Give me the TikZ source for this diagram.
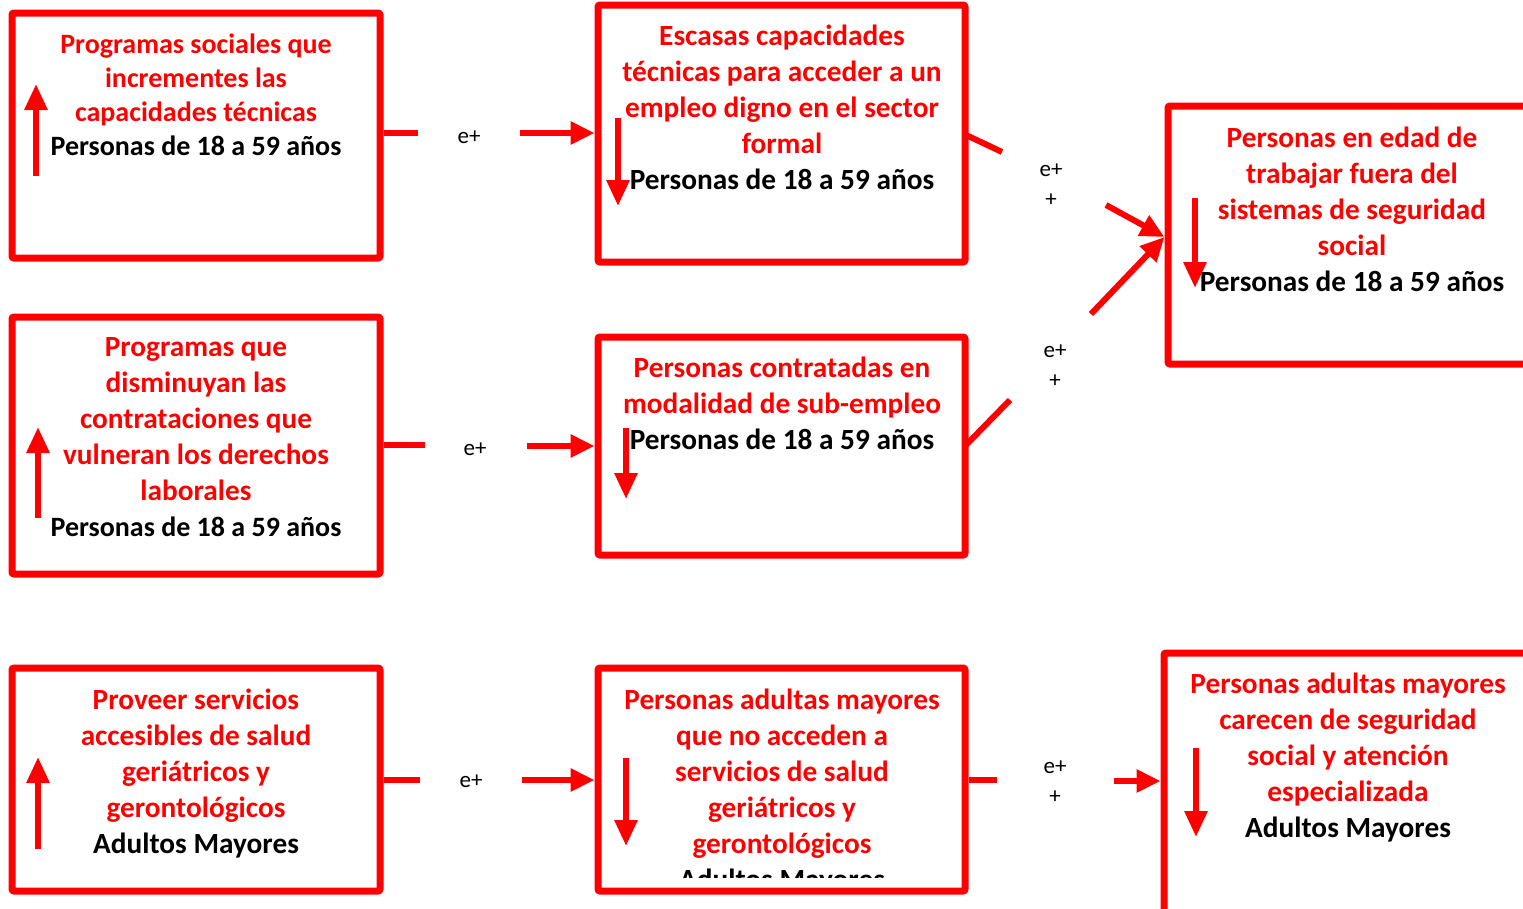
\documentclass[tikz,border=0pt]{standalone}
\usepackage{fontspec}
\setmainfont{Carlito}
\usetikzlibrary{arrows.meta}
\definecolor{rd}{RGB}{255,0,0}
\tikzset{
  box/.style={draw=rd, line width=7pt, rounded corners=2pt, inner sep=0pt},
  txt/.style={align=center, font=\bfseries\fontsize{29.3}{36}\selectfont, text=rd, inner sep=0pt, anchor=base},
  txtsm/.style={txt, font=\bfseries\fontsize{28}{34}\selectfont},
  lab/.style={align=center, font=\fontsize{23}{30}\selectfont, inner sep=0pt, anchor=base},
  conn/.style={draw=rd, line width=6pt},
  arr/.style={draw=rd, line width=6pt, -{Triangle[length=24pt, width=22pt]}},
  ind/.style={draw=rd, line width=6pt, -{Triangle[length=26pt, width=22pt]}},
}
\newcommand{\blk}[1]{\textcolor{black}{#1}}
\newcommand{\blksm}[1]{\textcolor{black}{\fontsize{28}{36}\selectfont #1}}
\begin{document}
\begin{tikzpicture}[x=1pt, y=-1pt]
\useasboundingbox (0,0) rectangle (1523,908);
\clip (0,0) rectangle (1523,908);
% boxes
\node[box, minimum width=368pt, minimum height=245pt] (A1) at (196,135.5) {};
\node[box, minimum width=367pt, minimum height=257pt] (A2) at (781.5,133.5) {};
\node[box, minimum width=362pt, minimum height=258pt] (A3) at (1349,235) {};
\node[box, minimum width=368pt, minimum height=257pt] (B1) at (196,445.5) {};
\node[box, minimum width=367pt, minimum height=218pt] (B2) at (781.5,446) {};
\node[box, minimum width=368pt, minimum height=223pt] (C1) at (196,779.5) {};
\node[box, minimum width=367pt, minimum height=223pt] (C2) at (781.5,779.5) {};
\node[box, minimum width=366pt, minimum height=262pt] (C3) at (1347,784) {};
% texts
\node[txtsm] (tA1) at (196,155) {Programas sociales que\\incrementes las\\capacidades técnicas\\\blk{Personas de 18 a 59 años}};
\node[txt] (tA2) at (782,189) {Escasas capacidades\\técnicas para acceder a un\\empleo digno en el sector\\formal\\\blk{Personas de 18 a 59 años}};
\node[txt] (tA3) at (1352,291) {Personas en edad de\\trabajar fuera del\\sistemas de seguridad\\social\\\blk{Personas de 18 a 59 años}};
\node[txt] (tB1) at (196,536) {Programas que\\disminuyan las\\contrataciones que\\vulneran los derechos\\laborales\\\blksm{Personas de 18 a 59 años}};
\node[txt] (tB2) at (782,449) {Personas contratadas en\\modalidad de sub-empleo\\\blk{Personas de 18 a 59 años}};
\node[txt] (tC1) at (196,853) {Proveer servicios\\accesibles de salud\\geriátricos y\\gerontológicos\\\blk{Adultos Mayores}};
\begin{scope}
\clip (600,660) rectangle (963,877);
\node[txt] (tC2) at (782,889) {Personas adultas mayores\\que no acceden a\\servicios de salud\\geriátricos y\\gerontológicos\\\blk{Adultos Mayores}};
\end{scope}
\node[txt] (tC3) at (1348,837) {Personas adultas mayores\\carecen de seguridad\\social y atención\\especializada\\\blk{Adultos Mayores}};
% indicator arrows
\draw[ind] (36,176) -- (36,84);
\draw[ind] (38,518) -- (38,427);
\draw[ind] (38,849) -- (38,757);
\draw[ind] (618,118) -- (618,206);
\draw[ind] (626,428) -- (626,499);
\draw[ind] (626,758) -- (626,846);
\draw[ind] (1195,198) -- (1195,288);
\draw[ind] (1196,748) -- (1196,837);
% labels
\node[lab] (eA) at (469,143) {e+};
\node[lab] (eAB) at (1051,206) {e+\\+};
\node[lab] (eB) at (475,455) {e+};
\node[lab] (eB2) at (1055,387) {e+\\+};
\node[lab] (eC) at (471,787) {e+};
\node[lab] (eC2) at (1055,803) {e+\\+};
% connectors
\coordinate (a1s) at (418,133);
\coordinate (a1t) at (520,133);
\draw[conn] (A1.east |- a1s) -- (a1s);
\draw[arr] (a1t) -- (A2.west |- a1t);
\coordinate (b1s) at (425,445);
\coordinate (b1t) at (527,446);
\draw[conn] (B1.east |- b1s) -- (b1s);
\draw[arr] (b1t) -- (B2.west |- b1t);
\coordinate (c1s) at (420,780);
\coordinate (c1t) at (522,780);
\draw[conn] (C1.east |- c1s) -- (c1s);
\draw[arr] (c1t) -- (C2.west |- c1t);
\coordinate (c2s) at (997,780);
\coordinate (c2t) at (1114,781);
\draw[conn] (C2.east |- c2s) -- (c2s);
\draw[arr] (c2t) -- (C3.west |- c2t);
\coordinate (a2o) at (966,135);
\coordinate (a2s) at (1002,152);
\coordinate (a2t) at (1106,205);
\coordinate (a3in) at (1166,237);
\draw[conn] (a2o) -- (a2s);
\draw[arr] (a2t) -- (A3.west |- a3in);
\coordinate (b2o) at (966,445);
\coordinate (b2s) at (1010,400);
\coordinate (b2t) at (1091,314);
\draw[conn] (b2o) -- (b2s);
\draw[arr] (b2t) -- (A3.west |- a3in);
\end{tikzpicture}
\end{document}
